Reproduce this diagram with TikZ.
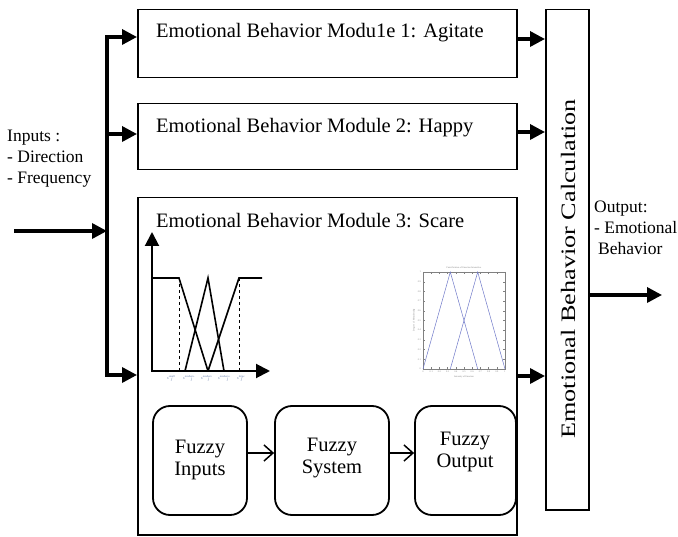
\documentclass[tikz,border=0pt]{standalone}
\usepackage{fontspec}
\setmainfont{Liberation Serif}
\usetikzlibrary{arrows.meta}
\definecolor{mfblue}{RGB}{110,120,200}
\definecolor{lblgray}{RGB}{90,115,165}
\newcommand{\sjlab}[1]{\textit{s}\textsuperscript{\textit{#1}}\hspace{-4pt}\raisebox{-1.2pt}{\textit{j}}}
\begin{document}
\begin{tikzpicture}[x=1pt,y=-1pt,
  modbox/.style={draw, line width=1.5pt, inner sep=0pt, anchor=north west},
  big/.style={font=\fontsize{20.5}{24}\selectfont, inner sep=0pt},
  mid/.style={font=\fontsize{17.5}{21}\selectfont, inner sep=0pt, align=left, anchor=north west},
  fat/.style={line width=3.4pt, -{Triangle[length=15pt,width=15pt]}},
  fz/.style={draw, line width=1.8pt, rounded corners=17pt, minimum height=109pt, inner sep=0pt},
  fztext/.style={font=\fontsize{20.5}{22.5}\selectfont, align=center, inner sep=0pt},
  thin/.style={line width=1.5pt, -{Straight Barb[length=9pt,width=16pt]}},
  tiny/.style={font=\fontsize{4}{4.5}\selectfont, text=lblgray, inner sep=0pt},
  tick/.style={font=\fontsize{2.4}{2.7}\selectfont, text=gray, inner sep=0pt}
]
\useasboundingbox (0,0) rectangle (678,537);

% module boxes
\node[modbox, minimum width=379pt, minimum height=68pt] (m1) at (137,9) {};
\node[modbox, minimum width=379pt, minimum height=66pt] (m2) at (137,103) {};
\node[modbox, minimum width=379pt, minimum height=337pt] (m3) at (137,197) {};
\node[modbox, minimum width=43pt, minimum height=500pt] (calc) at (545,9) {};

\node[big, anchor=west] (t1) at (156,33) {Emotional Behavior Modu1e 1: Agitate};
\node[big, anchor=west] (t2) at (156,128) {Emotional Behavior Module 2: Happy};
\node[big, anchor=west] (t3) at (156,221) {Emotional Behavior Module 3: Scare};
\node[big, rotate=90] (ct) at (568,269) {\scalebox{1.28}[1]{Emotional Behavior Calculation}};

% inputs / outputs text
\node[mid] (inp) at (7,130) {Inputs :\\- Direction\\- Frequency};
\node[mid] (outp) at (594,201) {Output:\\- Emotional\\\hspace{4pt}Behavior};

% bus
\coordinate (in) at (14,231);
\coordinate (bj) at (107,231);
\coordinate (bt) at (107,37);
\coordinate (bm) at (107,134);
\coordinate (bb) at (107,375);
\draw[line width=3.4pt, line cap=rect] (bt) -- (bb);
\draw[fat] (in) -- (bj);
\draw[fat] (bt) -- (m1.west |- bt);
\draw[fat] (bm) -- (m2.west |- bm);
\draw[fat] (bb) -- (m3.west |- bb);

% to calculation
\draw[fat] (m1.east |- 0,39) -- (calc.west |- 0,39);
\draw[fat] (m2.east |- 0,132) -- (calc.west |- 0,132);
\draw[fat] (m3.east |- 0,376) -- (calc.west |- 0,376);
\coordinate (out) at (662,295);
\draw[fat] (calc.east |- out) -- (out);

% membership function sketch
\draw[line width=2pt, {Triangle[length=14pt,width=14pt]}-{Triangle[length=14pt,width=14pt]}, line join=miter]
  (152,232) -- (152,371) -- (270,371);
\draw[line width=1.6pt, line join=miter] (152,278) -- (179,278) -- (208,371);
\draw[line width=1.6pt, line join=miter] (185,371) -- (208,278) -- (224,371);
\draw[line width=1.6pt, line join=miter] (208,371) -- (239,278) -- (262,278);
\draw[line width=1pt, dashed] (179,278) -- (179,371);
\draw[line width=1pt, dashed] (239,278) -- (239,371);
\node[tiny, anchor=north west] (l1) at (167,375) {\sjlab{small}};
\node[tiny, anchor=north west] (l2) at (183,375) {\sjlab{medium-}};
\node[tiny, anchor=north west] (l3) at (201,375) {\sjlab{medium}};
\node[tiny, anchor=north west] (l4) at (218,375) {\sjlab{medium+}};
\node[tiny, anchor=north west] (l5) at (237,375) {\sjlab{large}};

% matlab style plot
\draw[line width=0.4pt, gray] (423,272) rectangle (505,369);
\foreach \i in {0,...,10} {
  \draw[line width=0.3pt, gray] (423,{369-9.7*\i}) -- (425,{369-9.7*\i});
  \draw[line width=0.3pt, gray] (505,{369-9.7*\i}) -- (503,{369-9.7*\i});
  \draw[line width=0.3pt, gray] ({423+8.2*\i},369) -- ({423+8.2*\i},367);
  \draw[line width=0.3pt, gray] ({423+8.2*\i},272) -- ({423+8.2*\i},274);
}
\foreach \i/\t in {0/0,1/0.1,2/0.2,3/0.3,4/0.4,5/0.5,6/0.6,7/0.7,8/0.8,9/0.9,10/1} {
  \node[tick, anchor=east] at (421,{369-9.7*\i}) {\t};
  \node[tick, anchor=north] at ({423+8.2*\i},371) {\t};
}
\node[tick] (ptitle) at (464,268) {Fuzzification of Emotion Intensities};
\node[tick, rotate=90] (ylab) at (414,320) {Degree of Membership};
\node[tick] (xlab) at (464,377) {Intensity of Emotion};
\draw[line width=0.5pt, mfblue] (423,369) -- (450.3,272) -- (477.7,369);
\draw[line width=0.5pt, mfblue] (450.3,369) -- (477.7,272) -- (505,369);

% fuzzy blocks
\node[fz, minimum width=94pt] (fi) at (200,460.5) {};
\node[fz, minimum width=114pt] (fs) at (332,460.5) {};
\node[fz, minimum width=101pt] (fo) at (465.5,460.5) {};
\node[fztext] (fit) at (200,460) {Fuzzy\\Inputs};
\node[fztext] (fst) at (332,458) {Fuzzy\\System};
\node[fztext] (fot) at (465,452) {Fuzzy\\Output};
\draw[thin] (fi.east |- 0,453) -- (fs.west |- 0,453);
\draw[thin] (fs.east |- 0,453) -- (fo.west |- 0,453);
\end{tikzpicture}
\end{document}
